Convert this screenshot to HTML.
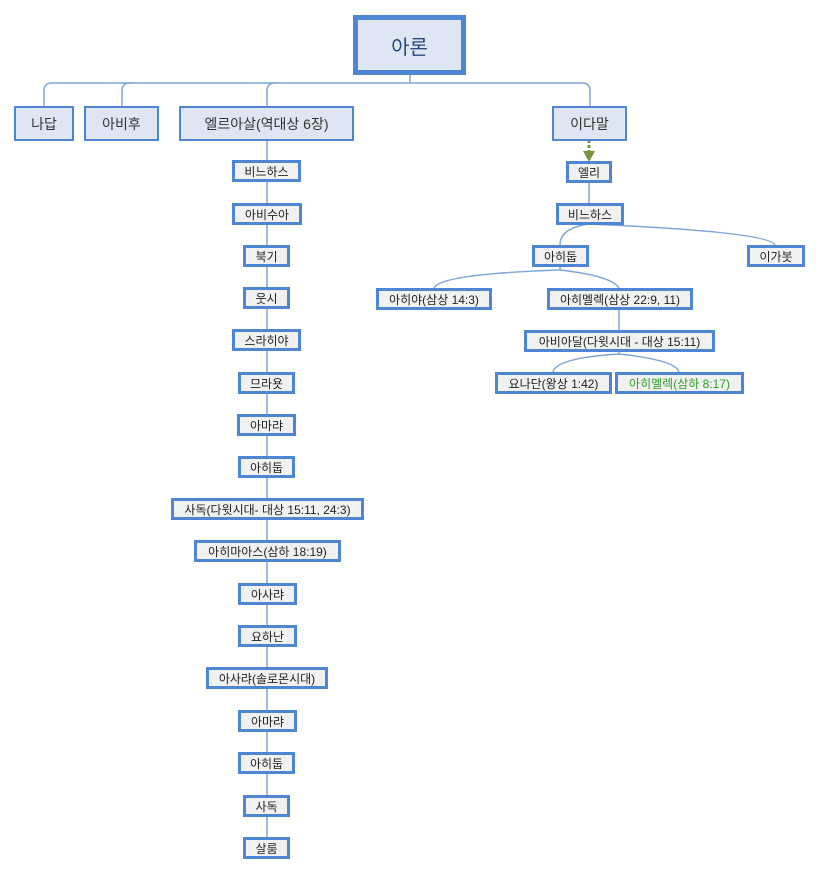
<!DOCTYPE html>
<html><head><meta charset="utf-8"><style>
body{margin:0;width:820px;height:874px;background:#fff;position:relative;overflow:hidden;font-family:"Liberation Sans","Noto Sans CJK KR","NanumGothic",sans-serif;}
.n{position:absolute;box-sizing:border-box;border:3px solid #4f86d4;background:#f1f1f1;font-size:12px;color:#222;text-align:center;white-space:nowrap;display:flex;align-items:center;justify-content:center;}
.m{background:#dde6f2;border-width:2px;font-size:14px;color:#333;}
svg{position:absolute;left:0;top:0;}
</style></head><body>
<svg width="820" height="874">
<g stroke="#7fa6da" stroke-width="1.5" fill="none">
<path d="M410 75 V83"/>
<path d="M44 106 V91 Q44 83 52 83 H582 Q590 83 590 91 V106"/>
<path d="M122 106 V91 Q122 83 130 83"/>
<path d="M267 106 V91 Q267 83 275 83"/>
<path d="M267 140 V847"/>
<path d="M589 182 V203"/>
<path d="M589 224 Q560 228 560 245"/>
<path d="M589 224 Q770 232 775 245"/>
<path d="M560 266 V270 Q440 274 434 288"/>
<path d="M560 270 Q612 276 619 288"/>
<path d="M619 309 V330"/>
<path d="M619 351 V354 Q556 358 553 372"/>
<path d="M619 354 Q676 360 679 372"/>
</g>
<path d="M589 140 V152" stroke="#77943c" stroke-width="3" stroke-dasharray="3,2"/>
<polygon points="583,151 595,151 589,162" fill="#77943c"/>
</svg>
<div class="n m" style="left:353px;top:15px;width:113px;height:60px;border-width:5px;font-size:20px;color:#2a4a7a;">아론</div>
<div class="n m" style="left:14px;top:106px;width:60px;height:35px;">나답</div>
<div class="n m" style="left:84px;top:106px;width:75px;height:35px;">아비후</div>
<div class="n m" style="left:179px;top:106px;width:175px;height:35px;">엘르아살(역대상 6장)</div>
<div class="n m" style="left:552px;top:106px;width:75px;height:35px;">이다말</div>

<div class="n" style="left:232px;top:160px;width:69px;height:22px;">비느하스</div>
<div class="n" style="left:232px;top:203px;width:70px;height:22px;">아비수아</div>
<div class="n" style="left:243px;top:245px;width:47px;height:22px;">북기</div>
<div class="n" style="left:243px;top:287px;width:47px;height:22px;">웃시</div>
<div class="n" style="left:232px;top:329px;width:69px;height:22px;">스라히야</div>
<div class="n" style="left:238px;top:372px;width:57px;height:22px;">므라욧</div>
<div class="n" style="left:237px;top:414px;width:59px;height:22px;">아마랴</div>
<div class="n" style="left:238px;top:456px;width:57px;height:22px;">아히둡</div>
<div class="n" style="left:171px;top:498px;width:193px;height:22px;">사독(다윗시대- 대상 15:11, 24:3)</div>
<div class="n" style="left:194px;top:540px;width:147px;height:22px;">아히마아스(삼하 18:19)</div>
<div class="n" style="left:238px;top:583px;width:59px;height:22px;">아사랴</div>
<div class="n" style="left:238px;top:625px;width:59px;height:22px;">요하난</div>
<div class="n" style="left:206px;top:667px;width:122px;height:22px;">아사랴(솔로몬시대)</div>
<div class="n" style="left:238px;top:710px;width:59px;height:22px;">아마랴</div>
<div class="n" style="left:238px;top:752px;width:57px;height:22px;">아히둡</div>
<div class="n" style="left:243px;top:795px;width:47px;height:22px;">사독</div>
<div class="n" style="left:243px;top:837px;width:47px;height:22px;">살룸</div>

<div class="n" style="left:566px;top:161px;width:46px;height:22px;">엘리</div>
<div class="n" style="left:556px;top:203px;width:68px;height:22px;">비느하스</div>
<div class="n" style="left:532px;top:245px;width:57px;height:22px;">아히둡</div>
<div class="n" style="left:747px;top:245px;width:58px;height:22px;">이가봇</div>
<div class="n" style="left:376px;top:288px;width:116px;height:22px;">아히야(삼상 14:3)</div>
<div class="n" style="left:547px;top:288px;width:146px;height:22px;">아히멜렉(삼상 22:9, 11)</div>
<div class="n" style="left:524px;top:330px;width:191px;height:22px;">아비아달(다윗시대 - 대상 15:11)</div>
<div class="n" style="left:495px;top:372px;width:117px;height:22px;">요나단(왕상 1:42)</div>
<div class="n" style="left:615px;top:372px;width:129px;height:22px;color:#2aa02a;">아히멜렉(삼하 8:17)</div>
</body></html>
